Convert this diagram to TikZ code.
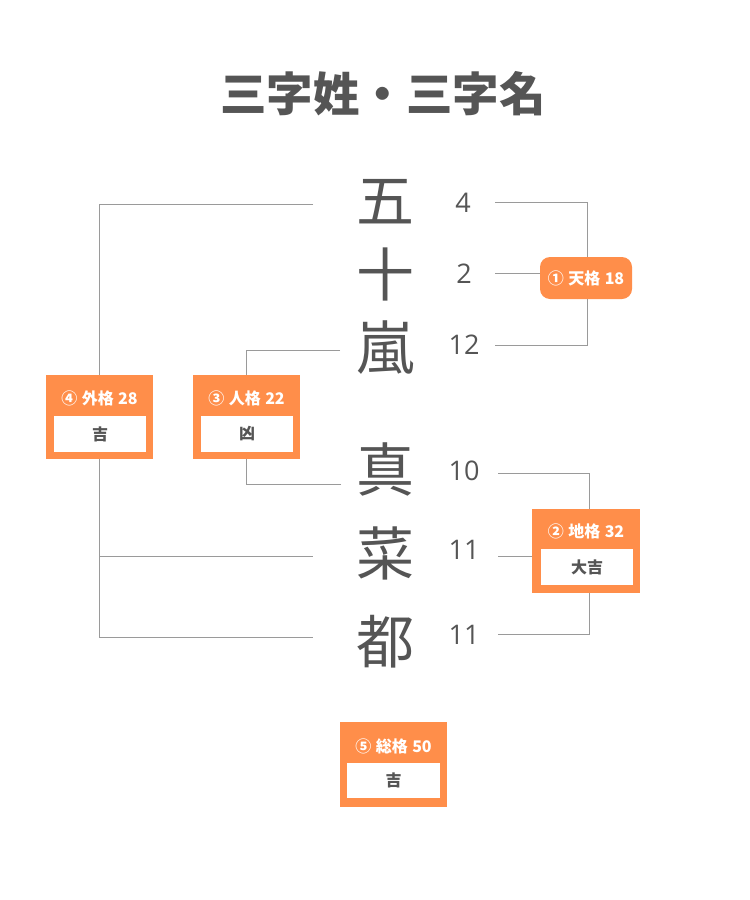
\documentclass[tikz,border=0pt]{standalone}
\usepackage{fontspec}
\setmainfont{Open Sans}
\newfontfamily\cjk{Noto Sans CJK JP}
\definecolor{orng}{HTML}{FF8E4A}
\definecolor{txt}{HTML}{555555}
\definecolor{linegray}{HTML}{9A9A9A}
\newcommand{\hsp}{\hspace{4.5pt}}
\begin{document}
\begin{tikzpicture}[x=1pt,y=-1pt,
  conn/.style={draw=linegray, line width=1pt},
  namechar/.style={font=\cjk\fontsize{58}{60}\selectfont, text=txt, inner sep=0},
  strokenum/.style={font=\fontsize{27}{30}\selectfont, text=txt, inner sep=0},
  obox/.style={fill=orng, draw=none, inner sep=0, minimum width=107, minimum height=84},
  hdr/.style={font=\cjk\bfseries\fontsize{16}{18}\selectfont, text=white, inner sep=0},
  wbox/.style={fill=white, draw=none, inner sep=0, minimum width=92, minimum height=36, font=\cjk\bfseries\fontsize{16}{18}\selectfont, text=txt}]
\useasboundingbox[fill=white] (0,0) rectangle (750,900);

% title
\node[font=\cjk\bfseries\fontsize{46.5}{50}\selectfont, text=txt, inner sep=0] (title) at (383,94) {三字姓・三字名};

% name characters
\node[namechar] (c1) at (385,202) {五};
\node[namechar] (c2) at (385,274) {十};
\node[namechar] (c3) at (385,348) {嵐};
\node[namechar] (c4) at (385,469) {真};
\node[namechar] (c5) at (385,553) {菜};
\node[namechar] (c6) at (385,642) {都};

% stroke counts
\node[strokenum] (n1) at (463,203) {4};
\node[strokenum] (n2) at (464,274) {2};
\node[strokenum] (n3) at (464,345) {12};
\node[strokenum] (n4) at (464,471) {10};
\node[strokenum] (n5) at (464,550) {11};
\node[strokenum] (n6) at (464,635) {11};

% boxes
\node[fill=orng, draw=none, inner sep=0, minimum width=92, minimum height=42, rounded corners=10,
      font=\cjk\bfseries\fontsize{16}{18}\selectfont, text=white] (tenkaku) at (586,278) {①\hsp 天格\hsp 18};

\node[obox, minimum width=108] (chikaku) at (586,551) {};
\node[hdr] (chikakuH) at (586,531) {②\hsp 地格\hsp 32};
\node[wbox] (chikakuW) at (587,567) {大吉};

\node[obox] (jinkaku) at (246.5,417) {};
\node[hdr] (jinkakuH) at (246.5,398) {③\hsp 人格\hsp 22};
\node[wbox] (jinkakuW) at (247,434) {凶};

\node[obox] (gaikaku) at (99.5,417) {};
\node[hdr] (gaikakuH) at (99.5,398) {④\hsp 外格\hsp 28};
\node[wbox] (gaikakuW) at (100,434) {吉};

\node[obox, minimum height=85] (soukaku) at (393.5,764.5) {};
\node[hdr] (soukakuH) at (393.5,746) {⑤\hsp 総格\hsp 50};
\node[wbox, minimum width=93, minimum height=35] (soukakuW) at (393.5,780.5) {吉};

% connector end points
\coordinate (t1) at (495,202);
\coordinate (t2) at (495,273);
\coordinate (t3) at (495,345);
\coordinate (k1) at (498,473);
\coordinate (k2) at (498,556);
\coordinate (k3) at (498,634);
\coordinate (g1) at (313,204);
\coordinate (g2) at (313,556);
\coordinate (g3) at (313,637);
\coordinate (j1) at (340,350);
\coordinate (j2) at (341,484);

% connectors
\draw[conn] (t1) -| ([xshift=1]tenkaku.north);
\draw[conn] (t3) -| ([xshift=1]tenkaku.south);
\draw[conn] (t2) -- (t2 -| tenkaku.west);

\draw[conn] (k1) -| ([xshift=3]chikaku.north);
\draw[conn] (k3) -| ([xshift=3]chikaku.south);
\draw[conn] (k2) -- (k2 -| chikaku.west);

\draw[conn] (g1) -| (gaikaku.north);
\draw[conn] (gaikaku.south) |- (g2);
\draw[conn] (gaikaku.south) |- (g3);

\draw[conn] (j1) -| (jinkaku.north);
\draw[conn] (j2) -| (jinkaku.south);
\end{tikzpicture}
\end{document}
